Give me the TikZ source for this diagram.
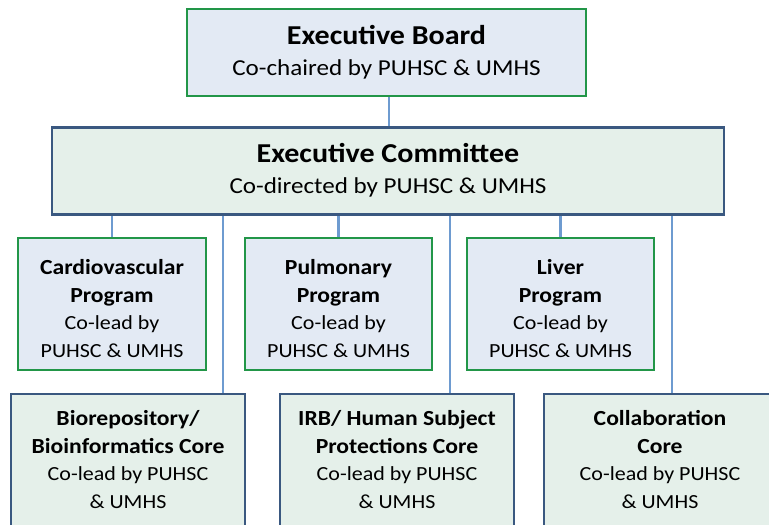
\documentclass[tikz,border=0pt]{standalone}
\usepackage{fontspec}
\setmainfont{Carlito}[FakeStretch=1.1]
\usepackage{xcolor}
\usetikzlibrary{positioning}
\definecolor{BoardGreen}{RGB}{34,150,72}
\definecolor{BoardFill}{RGB}{227,234,244}
\definecolor{CoreBlue}{RGB}{58,88,128}
\definecolor{CoreFill}{RGB}{229,240,234}
\definecolor{LinkBlue}{RGB}{110,155,208}
\newcommand{\toptitle}[1]{{\fontsize{27.3}{31}\selectfont\bfseries #1}}
\newcommand{\unitname}[1]{{\fontsize{21.5}{27.5}\selectfont\bfseries #1}}

\begin{document}
\begin{tikzpicture}[x=1pt, y=-1pt,
    board/.style={rectangle, draw=BoardGreen, fill=BoardFill, line width=2.6pt, align=center, inner sep=0pt},
    core/.style={rectangle, draw=CoreBlue, fill=CoreFill, line width=2.6pt, align=center, inner sep=0pt},
    big/.style={font=\fontsize{22.8}{31}\selectfont, text height=45pt, text depth=0pt},
    program/.style={font=\fontsize{20}{27.5}\selectfont, text height=106pt, text depth=0pt},
    unit/.style={font=\fontsize{20}{27.5}\selectfont, text height=88pt, text depth=0pt},
    link/.style={draw=LinkBlue, line width=2.4pt}
]
\clip (0,0) rectangle (769,525);
\fill[white] (0,0) rectangle (769,525);

% top of the chart
\node[board, big, minimum width=399pt, minimum height=87pt] (board) at (386.5,52.5)
    {\toptitle{Executive Board}\\Co-chaired by PUHSC \& UMHS};
\node[core, big, minimum width=672pt, minimum height=87pt, below=29pt of board, xshift=1.5pt] (cttee)
    {\toptitle{Executive Committee}\\Co-directed by PUHSC \& UMHS};

% programs
\node[board, program, minimum width=188pt, minimum height=132pt] (cardio) at (112,304)
    {\unitname{Cardiovascular}\\\unitname{Program}\\Co-lead by\\PUHSC \& UMHS};
\node[board, program, minimum width=187pt, minimum height=132pt] (pulm) at (338.5,304)
    {\unitname{Pulmonary}\\\unitname{Program}\\Co-lead by\\PUHSC \& UMHS};
\node[board, program, minimum width=187pt, minimum height=132pt] (liver) at (560.5,304)
    {\unitname{Liver}\\\unitname{Program}\\Co-lead by\\PUHSC \& UMHS};

% cores
\node[core, unit, minimum width=234pt, minimum height=140pt] (bio) at (128,464)
    {\unitname{Biorepository/}\\\unitname{Bioinformatics Core}\\Co-lead by PUHSC\\\& UMHS};
\node[core, unit, minimum width=234pt, minimum height=140pt] (irb) at (397,464)
    {\unitname{IRB/ Human Subject}\\\unitname{Protections Core}\\Co-lead by PUHSC\\\& UMHS};
\node[core, unit, minimum width=232pt, minimum height=140pt] (collab) at (660,464)
    {\unitname{Collaboration}\\\unitname{Core}\\Co-lead by PUHSC\\\& UMHS};

% connectors
\draw[link] ([xshift=2.5pt]board.south) -- ([xshift=2.5pt]board.south |- cttee.north);
\draw[link] (cardio.north) -- (cardio.north |- cttee.south);
\draw[link] (pulm.north) -- (pulm.north |- cttee.south);
\draw[link] (liver.north) -- (liver.north |- cttee.south);
\draw[link] ([xshift=95pt]bio.north) -- ([xshift=95pt]bio.north |- cttee.south);
\draw[link] ([xshift=53pt]irb.north) -- ([xshift=53pt]irb.north |- cttee.south);
\draw[link] ([xshift=12pt]collab.north) -- ([xshift=12pt]collab.north |- cttee.south);
\end{tikzpicture}
\end{document}
